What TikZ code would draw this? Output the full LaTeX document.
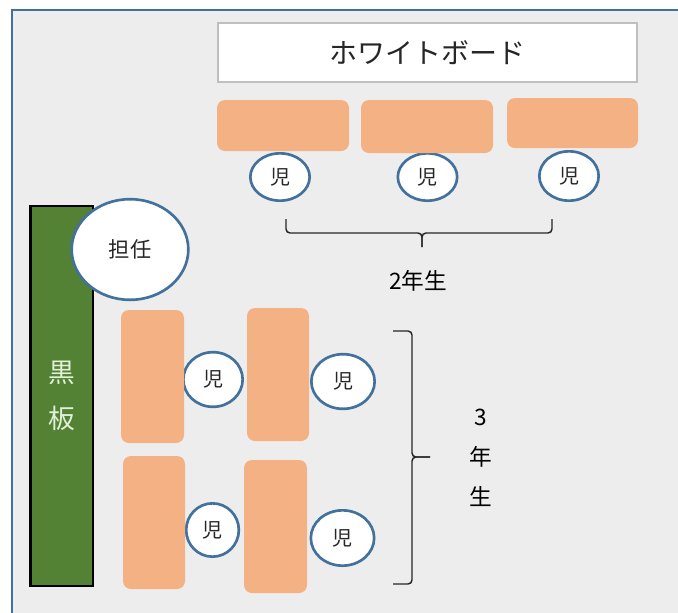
\documentclass[tikz,border=0pt]{standalone}
\usepackage{fontspec}
\setmainfont{Noto Sans CJK JP}
\usepackage{tikz}
\usetikzlibrary{shapes.geometric, positioning}

\definecolor{frameblue}{HTML}{41719C}
\definecolor{roomgray}{HTML}{EDEDED}
\definecolor{deskorange}{HTML}{F4B183}
\definecolor{chalkgreen}{HTML}{548235}
\definecolor{chalktext}{HTML}{E2F0D9}
\definecolor{wbgray}{HTML}{BFBFBF}
\definecolor{inkgray}{HTML}{262626}

\begin{document}
\begin{tikzpicture}[
    x=0.75pt, y=-0.75pt,
    % Core styles
    room/.style={draw=frameblue, fill=roomgray, line width=1.5pt},
    desk/.style={fill=deskorange, rounded corners=6pt},
    pupil/.style={
        ellipse, draw=frameblue, fill=white, line width=2pt, inner sep=0pt,
        minimum width=44.5pt, minimum height=35.5pt,
        font=\fontsize{15}{18}\selectfont, text=inkgray
    },
    teacher/.style={pupil, minimum width=87.5pt, minimum height=75.5pt, font=\fontsize{16}{19}\selectfont},
    chalkboard/.style={
        rectangle, draw=black, fill=chalkgreen, line width=2pt,
        minimum width=47pt, minimum height=285pt, align=center,
        text=chalktext, font=\fontsize{20}{34.5}\selectfont
    },
    whiteboard/.style={
        rectangle, draw=wbgray, fill=white, line width=1.5pt,
        minimum width=314.5pt, minimum height=44.5pt,
        text=inkgray, font=\fontsize{21}{25}\selectfont
    },
    brace/.style={draw=black!85, line width=1.1pt, rounded corners=3pt},
    gradelabel/.style={font=\fontsize{17}{30}\selectfont, align=center, text=black}
]

% === ROOM ===
\useasboundingbox (0,0) rectangle (678,612);
\clip (0,0) rectangle (678,612);
\draw[room] (12,10) rectangle (700,640);

% === BOARDS AND TEACHER ===
\node[whiteboard] (wboard) at (427.5,52.5) {ホワイトボード};
\node[chalkboard] (bboard) at (61.5,396) {黒\\板};
\node[teacher] (tannin) at (130,249.5) {担任};

% === 2nd GRADE (row under the whiteboard) ===
\node[pupil] (p2a) at (280,177) {児};
\node[pupil] (p2b) at (427.5,177) {児};
\node[pupil, minimum height=37pt] (p2c) at (569,176) {児};

\fill[desk] (217,100) rectangle (349,151);
\fill[desk] (361,100) rectangle (493,153);
\fill[desk] (507,98) rectangle (638,148);

\draw[brace] (286,219) -- (286,233) -- (422,233) -- (422,247);
\draw[brace] (422,247) -- (422,233) -- (552,233) -- (552,219);
\node[gradelabel] (g2) at (418,281) {2年生};

% === 3rd GRADE (block by the blackboard) ===
\node[pupil, minimum height=41pt] (p3a) at (213,379.5) {児};
\node[pupil, minimum width=47.5pt, minimum height=41pt] (p3b) at (343,381.5) {児};
\node[pupil, minimum width=39.5pt, minimum height=40pt] (p3c) at (212.5,530) {児};
\node[pupil, minimum width=47.5pt, minimum height=41.5pt] (p3d) at (342.5,538) {児};

\fill[desk] (121,310) rectangle (184,443);
\fill[desk] (247,308) rectangle (309,441);
\fill[desk] (123,456) rectangle (185,589);
\fill[desk] (244,460) rectangle (307,593);

\draw[brace] (393,331) -- (412,331) -- (412,457) -- (430,457);
\draw[brace] (430,457) -- (412,457) -- (412,584) -- (393,584);
\node[gradelabel] (g3) at (481,458) {3\\年\\生};

\end{tikzpicture}
\end{document}
